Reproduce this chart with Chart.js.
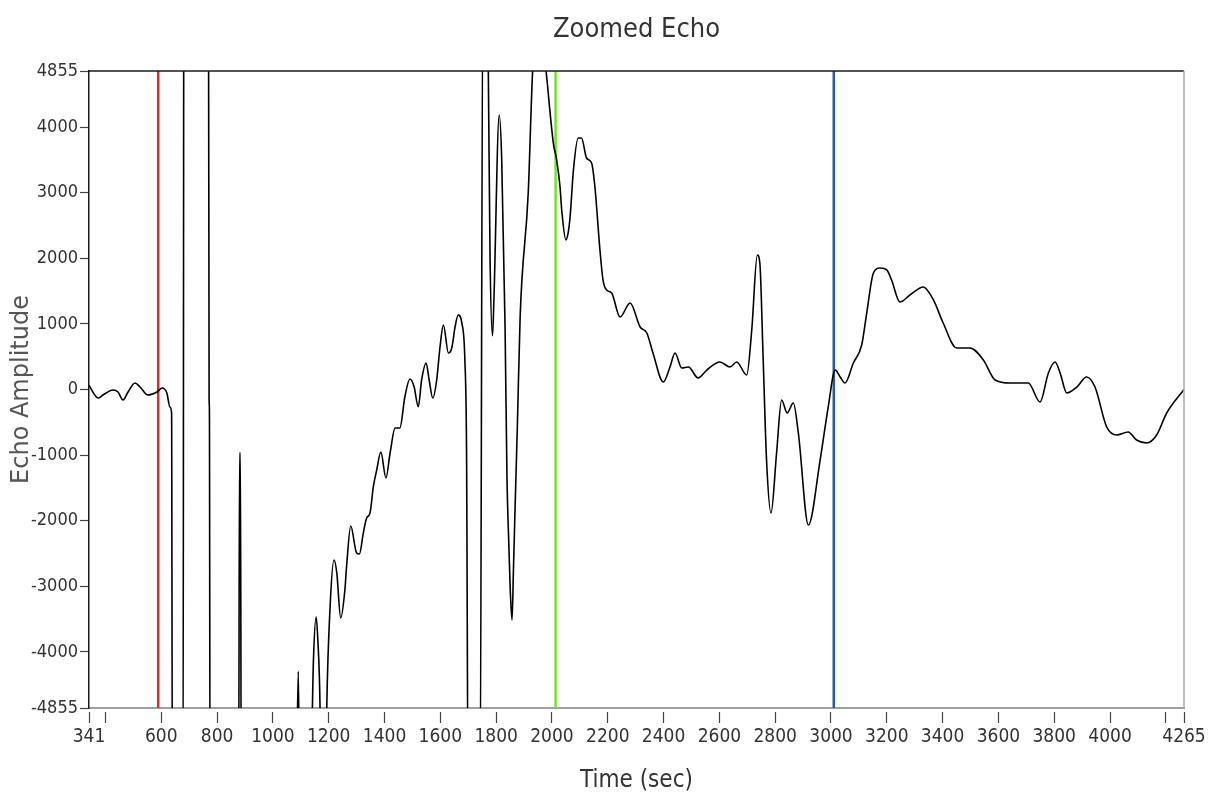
<!DOCTYPE html>
<html>
<head>
<meta charset="utf-8">
<title>Zoomed Echo</title>
<script src="https://cdn.jsdelivr.net/npm/chart.js@4.4.1/dist/chart.umd.min.js"></script>
<style>
    html, body { margin: 0; padding: 0; background: #fff; }
    #wrap { width: 1212px; height: 804px; }
</style>
</head>
<body>
<div id="wrap"><canvas id="echoChart"></canvas></div>
<script>
/* =======================
   DATA
======================= */
const timeValues = [
    341, 374, 391, 427, 445, 463, 481, 506, 524, 552, 585, 603, 620, 631, 637, 640,
    678, 681, 769, 771.5, 772.5, 775,
    877, 880.5, 883.5, 887, 1082, 1091, 1097,
    1133, 1145, 1155, 1161, 1169, 1173,
    1188, 1193, 1205, 1219, 1229, 1243, 1258, 1264, 1279, 1300, 1310, 1324, 1336, 1348,
    1360, 1372, 1387, 1405, 1420, 1438, 1455, 1473, 1491, 1506, 1521, 1533, 1549, 1560,
    1573, 1587, 1599, 1611, 1629, 1641, 1653, 1664, 1677, 1688, 1694, 1700,
    1742, 1753, 1766, 1772, 1778, 1787, 1792, 1811, 1820, 1832, 1839, 1845, 1851, 1857,
    1862, 1868, 1876, 1886, 1915, 1931, 1955, 1979, 2005, 2017, 2029, 2035, 2050, 2058,
    2065, 2077, 2094, 2106, 2124, 2142, 2154, 2172, 2183, 2196, 2214, 2244, 2280, 2316,
    2340, 2362, 2399, 2423, 2441, 2465, 2489, 2524, 2555, 2602, 2638, 2662, 2698, 2716,
    2736, 2745, 2757, 2769, 2785, 2805, 2823, 2843, 2865, 2883, 2919, 2961, 2990, 3015,
    3033, 3050, 3080, 3110, 3128, 3152, 3176, 3200, 3217, 3247, 3283, 3331, 3367, 3402,
    3450, 3498, 3546, 3588, 3642, 3707, 3749, 3779, 3803, 3821, 3845, 3881, 3916, 3946,
    3988, 4024, 4065, 4095, 4131, 4167, 4203, 4265
];
const echoValues = [
    60, -130, -84, -8, -38, -160, -38, 99, 38, -84, -38, 23, -53, -267, -360, -6500,
    -6500, 6500, 6500, -150, -300, -6500,
    -6500, -968, -968, -6500, -6500, -4300, -6500,
    -6500, -4170, -3468, -3818, -4855, -6500,
    -6500, -4855, -3311, -2599, -2797, -3483, -3056, -2701, -2081, -2492, -2508, -2188, -1959, -1883,
    -1482, -1227, -953, -1349, -968, -587, -587, -110, 160, 43, -262, 145, 404, 145,
    -130, 145, 652, 983, 556, 633, 957, 1136, 1014, 450, -948, -6500,
    -6500, 6500, 6500, 4855, 2081, 820, 1364, 4184, 3498, 952, -1380, -2294, -3102, -3514,
    -2752, -1787, -567, 1105, 2995, 4870, 5800, 4855, 3757, 3498, 3087, 2736, 2279, 2386,
    2630, 3346, 3833, 3833, 3528, 3452, 3087, 2126, 1669, 1517, 1471, 1105, 1319, 953,
    861, 556, 114, 343, 556, 328, 343, 175, 297, 419, 343, 419, 221, 907,
    2050, 1928, 450, -1075, -1883, -968, -160, -358, -206, -663, -2066, -1075, -267, 297,
    191, 99, 404, 678, 1166, 1776, 1852, 1822, 1669, 1334, 1441, 1563, 1365, 1014,
    633, 633, 450, 145, 99, 99, -190, 252, 419, 252, -53, 38, 191, 38,
    -572, -694, -648, -770, -816, -694, -358, 0
];

/* cursor lines */
const cursorTimes = [589, 2013, 3010];
const cursorColors = ["#d42b2b", "#6fe62a", "#2b57a6"];

/* axes */
const xTickValues = [341, 400, 600, 800, 1000, 1200, 1400, 1600, 1800, 2000, 2200, 2400,
    2600, 2800, 3000, 3200, 3400, 3600, 3800, 4000, 4200, 4265];
const xUnlabelled = [400, 4200];
const yTickValues = [-4855, -4000, -3000, -2000, -1000, 0, 1000, 2000, 3000, 4000, 4855];

const NARROW = "'Liberation Sans Narrow', 'DejaVu Sans Condensed', 'Liberation Sans', sans-serif";

/* =======================
   FRAME (top + right edges)
======================= */
const framePlugin = {
    id: "frame",
    afterDraw(chart) {
        const { ctx, chartArea: a } = chart;
        ctx.save();
        ctx.lineWidth = 1.5;
        ctx.strokeStyle = "#1a1a1a";
        ctx.beginPath();
        ctx.moveTo(a.left, a.top);
        ctx.lineTo(a.right, a.top);
        ctx.stroke();
        ctx.strokeStyle = "#a8a8a8";
        ctx.beginPath();
        ctx.moveTo(a.right, a.top);
        ctx.lineTo(a.right, a.bottom);
        ctx.stroke();
        ctx.restore();
    }
};

/* =======================
   BUILD CHART
======================= */
const datasets = [{
    label: "Echo",
    data: timeValues.map((t, i) => ({ x: t, y: echoValues[i] })),
    borderColor: "#000",
    borderWidth: 1.6,
    pointRadius: 0,
    cubicInterpolationMode: "monotone",
    clip: 0
}];

cursorTimes.forEach((t, i) => {
    datasets.push({
        label: "Cursor " + (i + 1),
        data: [{ x: t, y: -4855 }, { x: t, y: 4855 }],
        borderColor: cursorColors[i],
        borderWidth: 2.5,
        pointRadius: 0,
        clip: 0
    });
});

new Chart(document.getElementById("echoChart"), {
    type: "line",
    data: { datasets: datasets },
    options: {
        responsive: true,
        maintainAspectRatio: false,
        animation: false,
        layout: { padding: { left: 0, right: 28, top: 0, bottom: 0 } },
        plugins: {
            legend: { display: false },
            tooltip: { enabled: false },
            title: {
                display: true,
                fullSize: false,
                text: "Zoomed Echo",
                color: "#333",
                font: { family: NARROW, size: 27, weight: "normal" },
                padding: { top: 14, bottom: 24.6 }
            }
        },
        scales: {
            x: {
                type: "linear",
                min: 341,
                max: 4265,
                afterBuildTicks: s => { s.ticks = xTickValues.map(v => ({ value: v })); },
                afterFit: s => { s.height = 96; },
                ticks: {
                    autoSkip: false,
                    maxRotation: 0,
                    padding: 3,
                    color: "#333",
                    font: { family: NARROW, size: 19 },
                    callback: v => xUnlabelled.includes(v) ? "" : String(v)
                },
                grid: {
                    drawOnChartArea: false,
                    tickLength: 15,
                    tickColor: "#444",
                    tickWidth: 1.2,
                    tickBorderDash: [11, 200],
                    tickBorderDashOffset: 208
                },
                border: { color: "#a0a0a0", width: 2 },
                title: {
                    display: true,
                    text: "Time (sec)",
                    color: "#333",
                    font: { family: NARROW, size: 24 },
                    padding: { top: 0, bottom: 9 }
                }
            },
            y: {
                min: -4855,
                max: 4855,
                afterBuildTicks: s => { s.ticks = yTickValues.map(v => ({ value: v })); },
                afterFit: s => { s.width = 89; },
                ticks: {
                    autoSkip: false,
                    padding: 2,
                    color: "#333",
                    font: { family: NARROW, size: 18 },
                    callback: v => String(v)
                },
                grid: {
                    drawOnChartArea: false,
                    tickLength: 9,
                    tickColor: "#444",
                    tickWidth: 1.2
                },
                border: { color: "#1a1a1a", width: 1.5 },
                title: {
                    display: true,
                    text: "Echo Amplitude",
                    color: "#555",
                    font: { family: "'DejaVu Sans', sans-serif", size: 24 },
                    padding: { top: 7, bottom: 0 }
                }
            }
        }
    },
    plugins: [framePlugin]
});
</script>
</body>
</html>
